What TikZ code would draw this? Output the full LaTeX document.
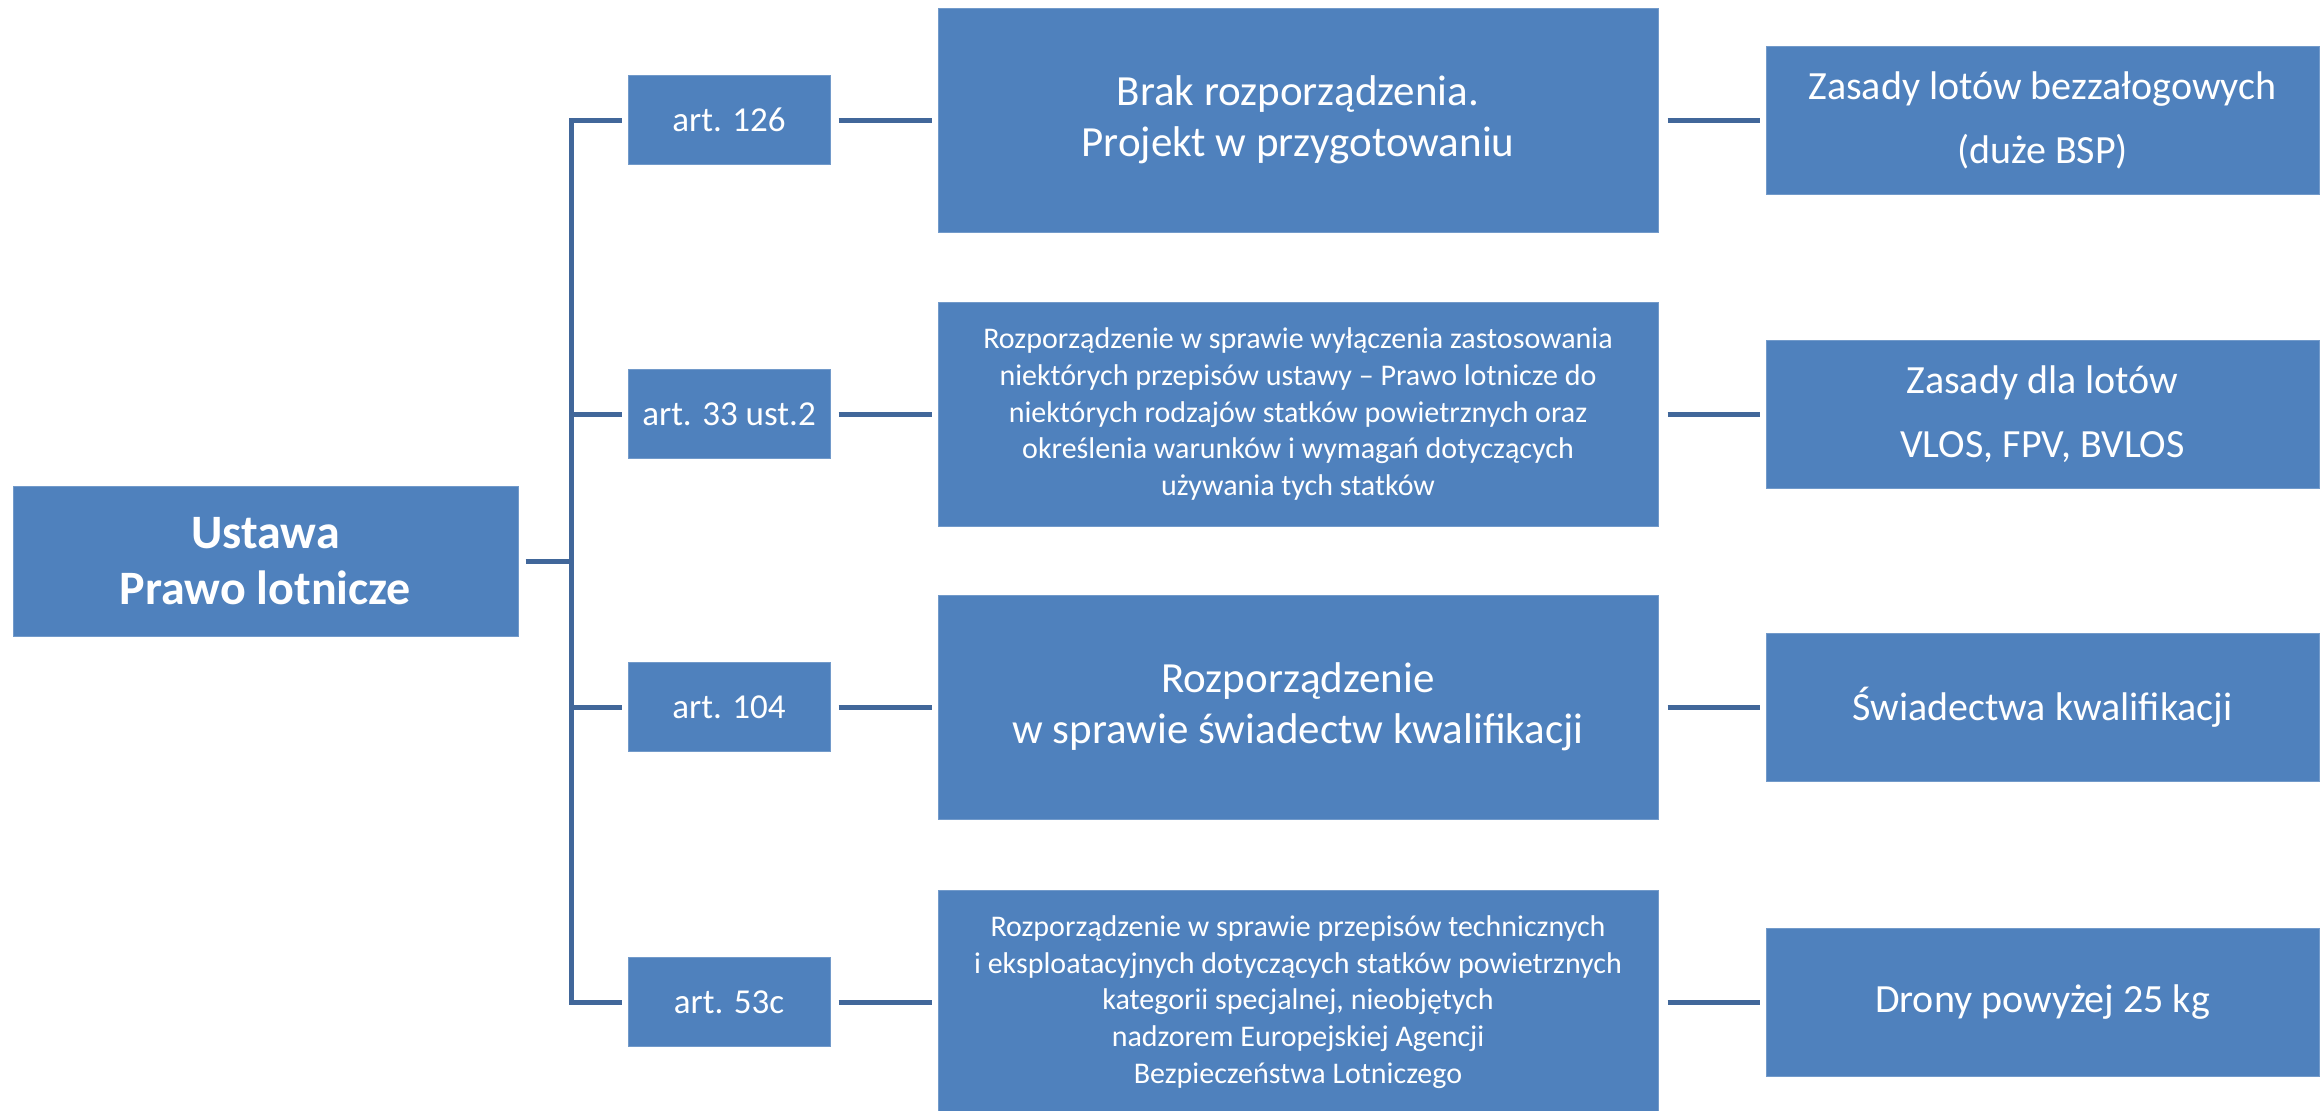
\documentclass[tikz,border=0pt]{standalone}
\usepackage{fontspec}
\setmainfont{Carlito}
\definecolor{boxblue}{RGB}{79,129,189}
\definecolor{linkblue}{RGB}{65,103,154}
\tikzset{every picture/.style={line width=0.75pt}}
\tikzset{
  blockbox/.style={draw=boxblue!80!white, line width=0.5pt, fill=boxblue, text=white, inner sep=0pt, align=center},
  link/.style={draw=linkblue, line width=2.5pt},
}

\begin{document}
\begin{tikzpicture}[x=0.5pt,y=0.5pt,yscale=-1,xscale=1]
		\useasboundingbox (0,0) rectangle (2321,1110);

		% Main node
		\node [blockbox, minimum width=252.5pt, minimum height=75pt, font=\fontsize{24}{28}\selectfont\bfseries] (ustawa) at (265.5,561) {Ustawa\\Prawo lotnicze};
		\coordinate (trunk) at (571,561);

		% Article nodes
		\node [blockbox, minimum width=101pt, minimum height=44.5pt, font=\fontsize{17.5}{21}\selectfont] (art126) at (729,120) {art. 126};
		\node [blockbox, minimum width=101pt, minimum height=44.5pt, font=\fontsize{17.5}{21}\selectfont] (art33) at (729,414) {art. 33 ust.2};
		\node [blockbox, minimum width=101pt, minimum height=44.5pt, font=\fontsize{17.5}{21}\selectfont] (art104) at (729,707) {art. 104};
		\node [blockbox, minimum width=101pt, minimum height=44.5pt, font=\fontsize{17.5}{21}\selectfont] (art53c) at (729,1002) {art. 53c};

		% Regulation nodes
		\node [blockbox, minimum width=360pt, minimum height=112pt, font=\fontsize{21.5}{25.5}\selectfont] (rozp1) at (1298,120) {Brak rozporządzenia.\\Projekt w przygotowaniu};
		\node [blockbox, minimum width=360pt, minimum height=112pt, font=\fontsize{15}{18.4}\selectfont] (rozp2) at (1298,414) {Rozporządzenie w sprawie wyłączenia zastosowania\\niektórych przepisów ustawy -- Prawo lotnicze do\\niektórych rodzajów statków powietrznych oraz\\określenia warunków i wymagań dotyczących\\używania tych statków};
		\node [blockbox, minimum width=360pt, minimum height=112pt, font=\fontsize{21.5}{25.5}\selectfont] (rozp3) at (1298,707) {Rozporządzenie\\w sprawie świadectw kwalifikacji};
		\node [blockbox, minimum width=360pt, minimum height=112pt, font=\fontsize{15}{18.4}\selectfont] (rozp4) at (1298,1002) {Rozporządzenie w sprawie przepisów technicznych\\i eksploatacyjnych dotyczących statków powietrznych\\kategorii specjalnej, nieobjętych\\nadzorem Europejskiej Agencji\\Bezpieczeństwa Lotniczego};

		% Scope nodes
		\node [blockbox, minimum width=276.5pt, minimum height=74pt, font=\fontsize{20}{32}\selectfont] (zakres1) at (2042.5,120) {Zasady lotów bezzałogowych\\(duże BSP)};
		\node [blockbox, minimum width=276.5pt, minimum height=74pt, font=\fontsize{20}{32}\selectfont] (zakres2) at (2042.5,414) {Zasady dla lotów\\VLOS, FPV, BVLOS};
		\node [blockbox, minimum width=276.5pt, minimum height=74pt, font=\fontsize{20}{32}\selectfont] (zakres3) at (2042.5,707) {Świadectwa kwalifikacji};
		\node [blockbox, minimum width=276.5pt, minimum height=74pt, font=\fontsize{20}{32}\selectfont] (zakres4) at (2042.5,1002) {Drony powyżej 25 kg};

		% Tree lines
		\draw [link] ([xshift=3.5pt]ustawa.east) -- (trunk);
		\draw [link] ([xshift=-3pt]art126.west) -| (art53c.west -| trunk) -- ([xshift=-3pt]art53c.west);
		\draw [link] (art33.west -| trunk) -- ([xshift=-3pt]art33.west);
		\draw [link] (art104.west -| trunk) -- ([xshift=-3pt]art104.west);

		% Straight Lines
		\foreach \a/\r/\z in {art126/rozp1/zakres1, art33/rozp2/zakres2, art104/rozp3/zakres3, art53c/rozp4/zakres4}{
		\draw [link, shorten <=4pt, shorten >=3pt] (\a.east) -- (\r.west);
		\draw [link, shorten <=4.5pt, shorten >=3pt] (\r.east) -- (\z.west);
		}

		\end{tikzpicture}
\end{document}
